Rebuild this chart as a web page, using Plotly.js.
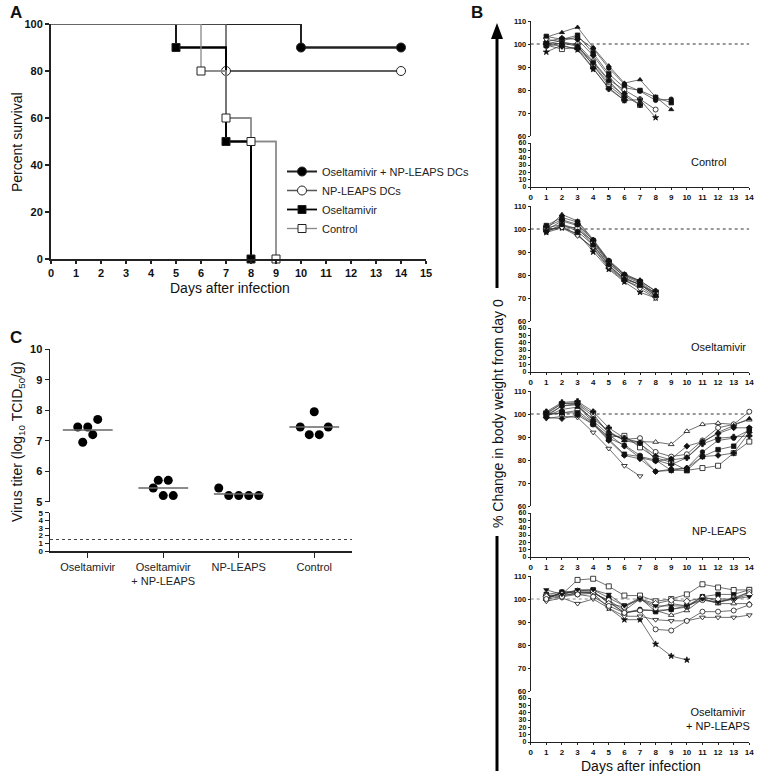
<!DOCTYPE html>
<html><head><meta charset="utf-8">
<script src="https://cdn.plot.ly/plotly-3.0.1.min.js"></script>
<style>html,body{margin:0;padding:0;background:#fff}</style>
</head><body><div id="chart" style="width:766px;height:778px"></div>
<script>
// ---------- Panel A: survival ----------
const survNames = ['Oseltamivir + NP-LEAPS DCs', 'NP-LEAPS DCs', 'Oseltamivir', 'Control'];
const survComboDays = [0, 10, 14];
const survComboPct  = [100, 90, 90];
const survNpDays    = [0, 7, 14];
const survNpPct     = [100, 80, 80];
const survOselDays  = [0, 5, 7, 8];
const survOselPct   = [100, 90, 50, 0];
const survCtrlDays  = [0, 6, 7, 8, 9];
const survCtrlPct   = [100, 80, 60, 50, 0];

// ---------- Panel C: virus titer ----------
const titerGroups  = ['Oseltamivir', 'Oseltamivir<br>+ NP-LEAPS', 'NP-LEAPS', 'Control'];
const titerOsel    = [7.45, 6.95, 7.45, 7.2, 7.7];
const titerCombo   = [5.45, 5.7, 5.2, 5.7, 5.2];
const titerNp      = [5.45, 5.2, 5.2, 5.2, 5.2];
const titerCtrl    = [7.45, 7.2, 7.95, 7.2, 7.45];
const titerMedians = [7.35, 5.45, 5.25, 7.45];
const titerLimit   = 1.5;

// ---------- Panel B: body weight (% of day 0), days 1..14 ----------
const weightDays = [1,2,3,4,5,6,7,8,9,10,11,12,13,14];
const weightBaseline = 100;
const weightPanels = ['Control', 'Oseltamivir', 'NP-LEAPS', 'Oseltamivir<br>+ NP-LEAPS'];
const weightControl = [
  [103, 105, 107.3, 98.5, 90.5, 83, 84.5, 77, 71.5],
  [103.3, 102, 103.8, 96, 87, 81, 79.8, 76.8, 74.5],
  [100, 101.5, 103, 98, 89.5, 82.5, 79.5, 75.5, 76],
  [100.5, 100, 100, 92.5, 84.5, 80, 76, 71.5],
  [99.5, 97.8, 98.5, 91, 83, 77.5, 73.5],
  [96.5, 99.5, 97.5, 89, 81, 75.5, 75.8, 68],
  [101, 102.5, 102, 95, 86, 78.5, 73.5],
  [102, 101, 99.5, 90.5, 82, 76.5],
  [99, 100.5, 99, 92, 84, 77],
  [100, 99, 98, 89.5, 80.5, 75.5]
];
const weightOsel = [
  [100, 106.3, 103.5, 95.5, 86.5, 80.5, 77.5, 73],
  [101.5, 105, 103, 95, 86, 80, 77, 72],
  [99.5, 103.5, 101.5, 94, 85, 79.5, 76.5, 71.5],
  [99, 101, 100.5, 93, 84, 78.5, 76, 71],
  [100.5, 102, 100, 94.5, 85.5, 79, 75.5, 72.5],
  [98.5, 100.5, 98, 90, 82.5, 77, 72.5, 70],
  [99.5, 101, 97.5, 91.5, 83, 77.5, 75, 70.5],
  [100, 100.5, 97, 92, 83.5, 78, 74, 70],
  [98.8, 102, 99, 93, 84.5, 78, 76, 71],
  [101, 104, 102, 95, 86, 80, 77.5, 73]
];
const weightNp = [
  [99, 103.5, 104.5, 99, 92, 88.5, 88, 87.8, 86.8, 92.5, 95.5, 96, 95.5, 97.5],
  [99.5, 100.5, 101.5, 96, 90, 90.5, 85.5, 81, 79, 75.5, 76.5, 77.5, 83, 88],
  [100, 104.5, 105, 100, 91.5, 89, 89.5, 83.5, 81.5, 82.5, 88.5, 94, 95.5, 101],
  [100, 100.5, 100.5, 95.5, 89, 82.5, 81.5, 80, 75.5, 75.5, 81.5, 84.5, 86, 93.5],
  [99.5, 103.5, 104, 96, 89.5, 86.5, 82, 75, 76, 76.5, 83.5, 88.5, 89.5, 93],
  [101, 105, 105.5, 101, 94, 89.5, 87.5, 80, 78, 81, 87, 89.5, 90, 90.5],
  [100.5, 104.5, 104.5, 97, 91, 86, 81, 79.5, 80.5, 86, 88, 91.5, 94, 94],
  [98, 99, 98.5, 92, 85, 77.5, 73],
  [99, 102, 103, 98, 92.5, 88.5, 87, 82, 80, 81, 87.5, 92, 95, 98],
  [98.5, 98, 99.5, 95.5, 88.5, 82, 80.5, 75, 75.5, 76.5, 81.5, 82, 83, 92]
];
const weightCombo = [
  [100, 103, 103, 103, 99, 94, 95, 95, 93, 95, 100, 98, 98, 98],
  [102, 103, 103.5, 104, 100.5, 97, 100.5, 94.5, 95.5, 97, 101, 102, 102, 104],
  [100, 103, 102.5, 103, 98.5, 94, 95.5, 95, 95.5, 96.5, 101, 99, 100, 103],
  [101, 102, 108.3, 108.8, 105.5, 101.5, 101.5, 99, 100, 102, 106.4, 105, 103.9, 104],
  [101, 101, 103, 102.5, 96, 91, 91, 80.4, 75.2, 73.5],
  [101.5, 102, 102, 102.5, 99.5, 95, 100, 96, 98, 97, 99.5, 98.5, 100.5, 103],
  [101, 102, 103.5, 103.5, 98, 96.5, 100, 98, 99.5, 99, 100.5, 100, 100, 102],
  [99, 100.5, 98, 100, 96, 92.5, 92.5, 91, 90.5, 90.5, 92, 92, 92, 93],
  [100, 101, 102, 101, 97, 94, 95, 86.8, 86.3, 90.5, 94.5, 94.5, 95, 97.5],
  [104, 102, 104, 104, 102, 97, 100, 97, 97, 97, 100, 98.5, 100, 101]
];

// ---------- helpers ----------
const W = 766, H = 778;
const px = v => v / W;
const py = v => 1 - v / H;
const FONT = 'Liberation Sans, Arial, sans-serif';

function ax(extra) {
  return Object.assign({
    showline: true, linecolor: '#222', linewidth: 1, ticks: 'outside', ticklen: 3,
    tickwidth: 1, tickcolor: '#222', showgrid: false, zeroline: false, fixedrange: true,
    tickfont: {family: FONT, size: 8, color: '#111', weight: 'bold'}
  }, extra);
}

const data = [];

// Panel A traces
const survSets = [
  {x: survComboDays, y: survComboPct, lc: '#222', lw: 2, sym: 'circle', fill: '#000', ms: 9},
  {x: survNpDays, y: survNpPct, lc: '#555', lw: 1.5, sym: 'circle', fill: '#fff', ms: 9},
  {x: survOselDays, y: survOselPct, lc: '#000', lw: 1.8, sym: 'square', fill: '#000', ms: 8},
  {x: survCtrlDays, y: survCtrlPct, lc: '#888', lw: 1.3, sym: 'square', fill: '#fff', ms: 8}
];
survSets.forEach((s, i) => {
  data.push({
    x: s.x, y: s.y, xaxis: 'x', yaxis: 'y', mode: 'lines', line: {shape: 'hv', color: s.lc, width: s.lw},
    showlegend: false, hoverinfo: 'skip', cliponaxis: false
  });
  data.push({
    x: s.x.slice(1), y: s.y.slice(1), xaxis: 'x', yaxis: 'y', mode: 'lines+markers', name: survNames[i],
    line: {shape: 'hv', color: s.lc, width: s.lw},
    marker: {symbol: s.sym, size: s.ms, color: s.fill, line: {color: '#222', width: 1}},
    cliponaxis: false
  });
});

// Panel C traces
const titerSets = [titerOsel, titerCombo, titerNp, titerCtrl];
const titerJitterPx = [[-10,-5,0,5,10], [-10,-5,0,5,10], [-20,-10,0,10,20], [-14,-5,0,5,14]];
const catPx = 75.5;
titerSets.forEach((vals, g) => {
  data.push({
    x: vals.map((v, k) => g + titerJitterPx[g][k] / catPx), y: vals,
    xaxis: 'x2', yaxis: 'y2', mode: 'markers', showlegend: false,
    marker: {symbol: 'circle', size: 9, color: '#000'}, cliponaxis: false
  });
  data.push({
    x: [g - 0.33, g + 0.33], y: [titerMedians[g], titerMedians[g]],
    xaxis: 'x2', yaxis: 'y2', mode: 'lines', showlegend: false,
    line: {color: '#666', width: 1.5}, hoverinfo: 'skip'
  });
});
data.push({
  x: [-0.5, 3.5], y: [titerLimit, titerLimit], xaxis: 'x2', yaxis: 'y3', mode: 'lines',
  showlegend: false, line: {color: '#444', width: 1, dash: 'dot'}, hoverinfo: 'skip'
});

// Panel B traces
const mouseSym  = ['triangle-up', 'square', 'circle', 'circle', 'square', 'star', 'diamond', 'triangle-down', 'circle', 'cross'];
const mouseOpen = [false, false, false, true, true, false, false, true, false, false];
const symSets = [
  mouseSym, mouseSym,
  ['triangle-up', 'square', 'circle', 'square', 'circle', 'cross', 'diamond', 'triangle-down', 'triangle-up', 'diamond'],
  ['triangle-up', 'square', 'circle', 'square', 'star', 'circle', 'diamond', 'triangle-down', 'circle', 'triangle-down']
];
const openSets = [
  mouseOpen, mouseOpen,
  [true, true, true, false, false, false, false, true, false, false],
  [true, false, false, true, false, true, true, true, true, false]
];
const weightSets = [weightControl, weightOsel, weightNp, weightCombo];
weightSets.forEach((mice, n) => {
  const xa = 'x' + (3 + n), ya = 'y' + (4 + 2 * n), yl = 'y' + (5 + 2 * n);
  // empty trace so the lower (0-60) axis segment and its x axis are built
  data.push({x: [null], y: [null], xaxis: xa, yaxis: yl, mode: 'markers', showlegend: false, hoverinfo: 'skip'});
  data.push({
    x: [0, 14], y: [weightBaseline, weightBaseline], xaxis: xa, yaxis: ya, mode: 'lines',
    showlegend: false, line: {color: n === 3 ? '#888' : '#333', width: 1, dash: 'dot'}, hoverinfo: 'skip'
  });
  mice.forEach((vals, i) => {
    const open = openSets[n][i];
    data.push({
      x: weightDays.slice(0, vals.length), y: vals, xaxis: xa, yaxis: ya, mode: 'lines+markers',
      showlegend: false, cliponaxis: false,
      line: {color: '#333', width: 0.7},
      marker: {symbol: symSets[n][i], size: open ? 5 : 4.5, color: open ? '#fff' : '#111',
               line: {color: '#111', width: 0.8}}
    });
  });
});

// ---------- layout ----------
const layout = {
  width: W, height: H, margin: {l: 0, r: 0, t: 0, b: 0},
  paper_bgcolor: '#fff', plot_bgcolor: 'rgba(0,0,0,0)',
  font: {family: FONT, color: '#111'},
  showlegend: true,
  legend: {x: px(282), y: py(157), xanchor: 'left', yanchor: 'top', bgcolor: 'rgba(0,0,0,0)',
           font: {family: FONT, size: 11, color: '#222'}, tracegroupgap: 0},
  xaxis: ax({domain: [px(51), px(426)], range: [0, 15], tickmode: 'linear', tick0: 0, dtick: 1, anchor: 'y',
             linewidth: 2, ticklen: 3, tickwidth: 1.5, tickfont: {family: FONT, size: 11, color: '#111', weight: 'bold'}}),
  yaxis: ax({domain: [py(259), py(24)], range: [0, 100], tickmode: 'linear', tick0: 0, dtick: 20, anchor: 'x',
             linewidth: 2, ticklen: 4, tickwidth: 1.5, tickfont: {family: FONT, size: 11, color: '#111', weight: 'bold'}}),
  xaxis2: ax({domain: [px(50), px(352)], range: [-0.5, 3.5], anchor: 'y3', tickmode: 'array',
              tickvals: [0, 1, 2, 3], ticktext: titerGroups, linewidth: 1.5, ticklen: 5,
              tickfont: {family: FONT, size: 11, color: '#222'}}),
  yaxis2: ax({domain: [py(501.7), py(349.3)], range: [5, 10], tickmode: 'linear', tick0: 5, dtick: 1, anchor: 'x2',
              linewidth: 1.5, ticklen: 4, tickfont: {family: FONT, size: 11, color: '#111', weight: 'bold'}}),
  yaxis3: ax({domain: [py(551), py(512.7)], range: [0, 5], tickmode: 'linear', tick0: 0, dtick: 1, anchor: 'x2',
              linewidth: 1.5, ticklen: 4, tickfont: {family: FONT, size: 8, color: '#111', weight: 'bold'}}),
  annotations: [],
  shapes: []
};
for (let n = 0; n < 4; n++) {
  const o = 185 * n;
  layout['xaxis' + (3 + n)] = ax({domain: [px(530.7), px(749.3)], range: [0, 14], tickmode: 'linear', tick0: 0, dtick: 1,
                                  anchor: 'y' + (5 + 2 * n), ticklen: 2});
  layout['yaxis' + (4 + 2 * n)] = ax({domain: [py(136 + o), py(21 + o)], range: [60, 110], tickmode: 'linear', tick0: 60, dtick: 10,
                                      anchor: 'x' + (3 + n), ticklen: 2, tickfont: {family: FONT, size: 7.5, color: '#111', weight: 'bold'}});
  layout['yaxis' + (5 + 2 * n)] = ax({domain: [py(187 + o), py(143 + o)], range: [0, 60], tickmode: 'linear', tick0: 0, dtick: 10,
                                      anchor: 'x' + (3 + n), ticklen: 2, tickfont: {family: FONT, size: 7, color: '#111', weight: 'bold'}});
}

function ann(text, x, y, size, extra) {
  layout.annotations.push(Object.assign({
    text: text, x: px(x), y: py(y), xref: 'paper', yref: 'paper', showarrow: false,
    xanchor: 'center', yanchor: 'middle', font: {family: FONT, size: size, color: '#111'}
  }, extra || {}));
}
ann('<b>A</b>', 16, 13, 17);
ann('<b>B</b>', 477, 13, 17);
ann('<b>C</b>', 16, 337, 17);
ann('Percent survival', 17, 142, 14, {textangle: -90});
ann('Days after infection', 230, 288, 14);
ann('Virus titer (log<sub>10</sub> TCID<sub>50</sub>/g)', 18, 442, 14, {textangle: -90});
ann('% Change in body weight from day 0', 498, 414, 14, {textangle: -90});
ann('Days after infection', 641, 766, 14);
ann(weightPanels[0], 708, 162, 11);
ann(weightPanels[1], 718, 347, 11);
ann(weightPanels[2], 719, 531, 11);
ann(weightPanels[3], 718, 719, 11);

layout.shapes.push(
  {type: 'line', xref: 'paper', yref: 'paper', x0: px(497), x1: px(497), y0: py(36), y1: py(288), line: {color: '#000', width: 3}},
  {type: 'path', xref: 'paper', yref: 'paper', path: `M ${px(491)} ${py(39)} L ${px(503)} ${py(39)} L ${px(497)} ${py(23)} Z`,
   fillcolor: '#000', line: {color: '#000', width: 0}},
  {type: 'line', xref: 'paper', yref: 'paper', x0: px(497), x1: px(497), y0: py(536), y1: py(771), line: {color: '#000', width: 3}}
);

Plotly.newPlot('chart', data, layout, {displayModeBar: false, staticPlot: true});
</script></body></html>
